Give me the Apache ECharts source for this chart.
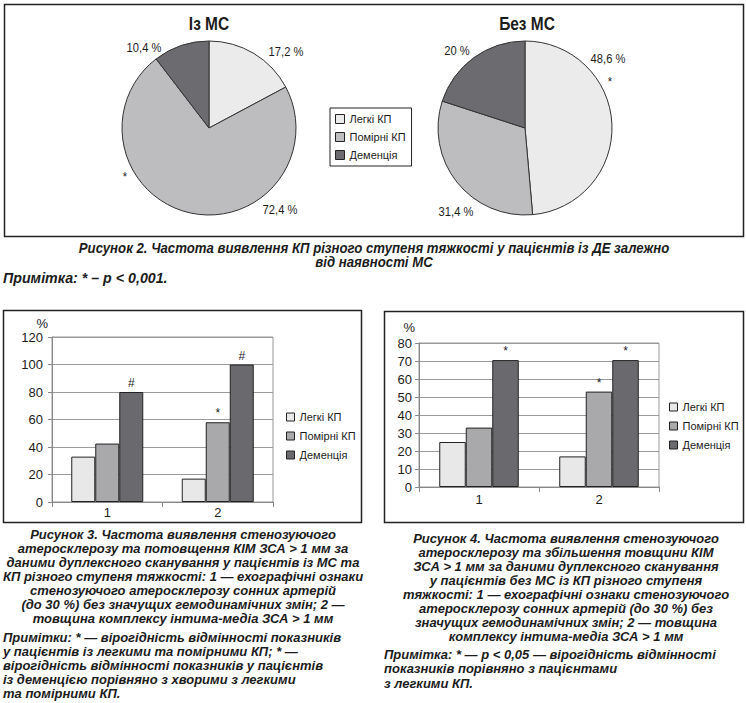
<!DOCTYPE html>
<html><head><meta charset="utf-8">
<script src="https://cdn.jsdelivr.net/npm/echarts@6/dist/echarts.min.js"></script>
<style>html,body{margin:0;padding:0;background:#fff}#c{width:746px;height:703px}</style>
</head><body><div id="c"></div>
<script>
// ---------- data ----------
const severity = ['Легкі КП', 'Помірні КП', 'Деменція'];
const pieTitles = ['Із МС', 'Без МС'];
const pieWithMS = [17.2, 72.4, 10.4];
const pieWithoutMS = [48.6, 31.4, 20];

const barCategories = ['1', '2'];
const fig3Light = [33, 17];
const fig3Moderate = [42.5, 58];
const fig3Dementia = [80, 100];
const fig3LightMarks = ['', ''];
const fig3ModerateMarks = ['', '*'];
const fig3DementiaMarks = ['#', '#'];
const fig3AxisMax = 120, fig3AxisStep = 20;

const fig4Light = [25, 17];
const fig4Moderate = [33, 53];
const fig4Dementia = [70.5, 70.5];
const fig4LightMarks = ['', ''];
const fig4ModerateMarks = ['', '*'];
const fig4DementiaMarks = ['*', '*'];
const fig4AxisMax = 80, fig4AxisStep = 10;

const fig2Caption = ['Рисунок 2. Частота виявлення КП різного ступеня тяжкості у пацієнтів із ДЕ залежно', 'від наявності МС'];
const fig2Note = 'Примітка: * – p < 0,001.';
const fig3Caption = ['Рисунок 3. Частота виявлення стенозуючого', 'атеросклерозу та потовщення КІМ ЗСА > 1 мм за', 'даними дуплексного сканування у пацієнтів із МС та', 'КП різного ступеня тяжкості: 1 — ехографічні ознаки', 'стенозуючого атеросклерозу сонних артерій', '(до 30 %) без значущих гемодинамічних змін; 2 —', 'товщина комплексу інтима-медіа ЗСА > 1 мм'];
const fig3Notes = ['Примітки: * — вірогідність відмінності показників', 'у пацієнтів із легкими та помірними КП; * —', 'вірогідність відмінності показників у пацієнтів', 'із деменцією порівняно з хворими з легкими', 'та помірними КП.'];
const fig4Caption = ['Рисунок 4. Частота виявлення стенозуючого', 'атеросклерозу та збільшення товщини КІМ', 'ЗСА > 1 мм за даними дуплексного сканування', 'у пацієнтів без МС із КП різного ступеня', 'тяжкості: 1 — ехографічні ознаки стенозуючого', 'атеросклерозу сонних артерій (до 30 %) без', 'значущих гемодинамічних змін; 2 — товщина', 'комплексу інтима-медіа ЗСА > 1 мм'];
const fig4Notes = ['Примітка: * — p < 0,05 — вірогідність відмінності', 'показників порівняно з пацієнтами', 'з легкими КП.'];

// ---------- style ----------
const SANS = "'Liberation Sans',Arial,sans-serif";
const pieColors = ['#ebebeb', '#bdbdc0', '#6b6b70'];
const barColors = ['#e8e8e8', '#a9a9ac', '#6a6a6e'];
const INK = '#1c1c1c';

const fmtPct = v => String(v).replace('.', ',') + ' %';

// text element; sx < 1 condenses the glyphs horizontally (narrow typeface look)
function txt(text, x, y, font, align, sx) {
  const a = align || 'center';
  return { type: 'text', silent: true, x, y, scaleX: sx || 1, scaleY: 1,
    style: { text, x: 0, y: 0, font, fill: INK, textAlign: a, align: a, textVerticalAlign: 'middle', verticalAlign: 'middle' } };
}
function frame(x, y, w, h) {
  return { type: 'rect', silent: true, shape: { x, y, width: w, height: h }, style: { fill: 'none', stroke: '#222', lineWidth: 1.5 } };
}

const graphics = [];
graphics.push(frame(4.5, 4.5, 739, 232));
graphics.push(frame(3.5, 310.5, 358, 212));
graphics.push(frame(384.5, 311.5, 359, 211));
graphics.push(txt(pieTitles[0], 209, 24, 'bold 18px ' + SANS, 'center', 0.86));
graphics.push(txt(pieTitles[1], 527, 24, 'bold 18px ' + SANS, 'center', 0.86));
// pie value labels
const pf = '13px ' + SANS, NS = 0.86;
graphics.push(txt(fmtPct(pieWithMS[0]), 286, 52, pf, 'center', NS));
graphics.push(txt(fmtPct(pieWithMS[1]), 280, 210, pf, 'center', NS));
graphics.push(txt(fmtPct(pieWithMS[2]), 144, 48, pf, 'center', NS));
graphics.push(txt('*', 125, 177, pf, 'center', NS));
graphics.push(txt(fmtPct(pieWithoutMS[0]), 608, 59, pf, 'center', NS));
graphics.push(txt(fmtPct(pieWithoutMS[1]), 456, 212, pf, 'center', NS));
graphics.push(txt(fmtPct(pieWithoutMS[2]), 457, 51, pf, 'center', NS));
graphics.push(txt('*', 610, 82, pf, 'center', NS));
// captions
const cf2 = 'italic bold 15px ' + SANS;
fig2Caption.forEach((l, i) => graphics.push(txt(l, 374, 248 + i * 14, cf2, 'center', 0.88)));
graphics.push(txt(fig2Note, 3, 278, cf2, 'left', 0.95));
const cf = 'italic bold 13px ' + SANS;
fig3Caption.forEach((l, i) => graphics.push(txt(l, 183, 534 + i * 14.1, cf)));
fig3Notes.forEach((l, i) => graphics.push(txt(l, 3, 637 + i * 14, cf, 'left')));
fig4Caption.forEach((l, i) => graphics.push(txt(l, 566, 538 + i * 14.1, cf)));
fig4Notes.forEach((l, i) => graphics.push(txt(l, 384, 654 + i * 14.5, cf, 'left')));

function pieSeries(name, values, cx) {
  return { type: 'pie', name, center: [cx, 128], radius: 87, startAngle: 90, clockwise: true,
    silent: true, label: { show: false }, labelLine: { show: false },
    itemStyle: { borderColor: '#333', borderWidth: 1 },
    data: severity.map((n, i) => ({ name: n, value: values[i], itemStyle: { color: pieColors[i] } })) };
}
function barSeries(name, values, marks, idx, color, bw) {
  return { type: 'bar', name, xAxisIndex: idx, yAxisIndex: idx, barWidth: bw, barGap: '0%', silent: true,
    itemStyle: { color, borderColor: '#222', borderWidth: 1 },
    label: { position: 'top', distance: 3, fontSize: 12, fontFamily: SANS, color: INK },
    data: values.map((v, i) => ({ value: v, label: { show: !!marks[i], formatter: marks[i] } })) };
}
function xAx(idx, margin) {
  return { gridIndex: idx, type: 'category', data: barCategories,
    axisLine: { lineStyle: { color: '#888' } }, axisTick: { show: true, length: 5, lineStyle: { color: '#888' } },
    axisLabel: { fontSize: 13, fontFamily: SANS, color: INK, margin }, splitLine: { show: false } };
}
function yAx(idx, max, step, margin, nameGap) {
  return { gridIndex: idx, type: 'value', min: 0, max, interval: step, name: '%', nameLocation: 'end', nameGap,
    nameTextStyle: { fontSize: 13, fontFamily: SANS, color: INK, align: 'right', padding: [0, 4, 0, 0] },
    axisLine: { show: true, lineStyle: { color: '#888' } }, axisTick: { show: true, length: 4, lineStyle: { color: '#888' } },
    axisLabel: { fontSize: 13, fontFamily: SANS, color: INK, margin }, splitLine: { lineStyle: { color: '#9a9a9a', width: 1 } } };
}
function legendData(colors) {
  return severity.map((n, i) => ({ name: n, itemStyle: { color: colors[i], borderColor: '#222', borderWidth: 1 } }));
}

const option = {
  animation: false,
  backgroundColor: '#fff',
  graphic: { elements: graphics },
  legend: [
    { orient: 'vertical', left: 330, top: 108, data: legendData(pieColors), icon: 'rect', itemWidth: 9, itemHeight: 9,
      itemGap: 4, itemTextGap: 4, padding: [4, 6, 4, 5], borderColor: '#222', borderWidth: 1, selectedMode: false,
      textStyle: { fontSize: 11, fontFamily: SANS, color: INK, lineHeight: 14 } },
    { orient: 'vertical', left: 286, top: 410, data: legendData(barColors), icon: 'rect', itemWidth: 8, itemHeight: 8,
      itemGap: 5, padding: 0, selectedMode: false, textStyle: { fontSize: 11, fontFamily: SANS, color: INK, lineHeight: 14 } },
    { orient: 'vertical', left: 669, top: 400, data: legendData(barColors), icon: 'rect', itemWidth: 8, itemHeight: 8,
      itemGap: 5, padding: 0, selectedMode: false, textStyle: { fontSize: 11, fontFamily: SANS, color: INK, lineHeight: 14 } }
  ],
  grid: [
    { left: 52, width: 221, top: 337, height: 165, show: true, borderColor: '#999', borderWidth: 1, backgroundColor: 'transparent' },
    { left: 419, width: 240, top: 343, height: 144, show: true, borderColor: '#999', borderWidth: 1, backgroundColor: 'transparent' }
  ],
  xAxis: [xAx(0, 4), xAx(1, 6)],
  yAxis: [yAx(0, fig3AxisMax, fig3AxisStep, 9, 7), yAx(1, fig4AxisMax, fig4AxisStep, 7, 9)],
  series: [
    pieSeries(pieTitles[0], pieWithMS, 209),
    pieSeries(pieTitles[1], pieWithoutMS, 525),
    barSeries(severity[0], fig3Light, fig3LightMarks, 0, barColors[0], 24),
    barSeries(severity[1], fig3Moderate, fig3ModerateMarks, 0, barColors[1], 24),
    barSeries(severity[2], fig3Dementia, fig3DementiaMarks, 0, barColors[2], 24),
    barSeries(severity[0], fig4Light, fig4LightMarks, 1, barColors[0], 26.5),
    barSeries(severity[1], fig4Moderate, fig4ModerateMarks, 1, barColors[1], 26.5),
    barSeries(severity[2], fig4Dementia, fig4DementiaMarks, 1, barColors[2], 26.5)
  ]
};
const chart = echarts.init(document.getElementById('c'), null, { renderer: 'svg' });
chart.setOption(option);
</script>
</body></html>
